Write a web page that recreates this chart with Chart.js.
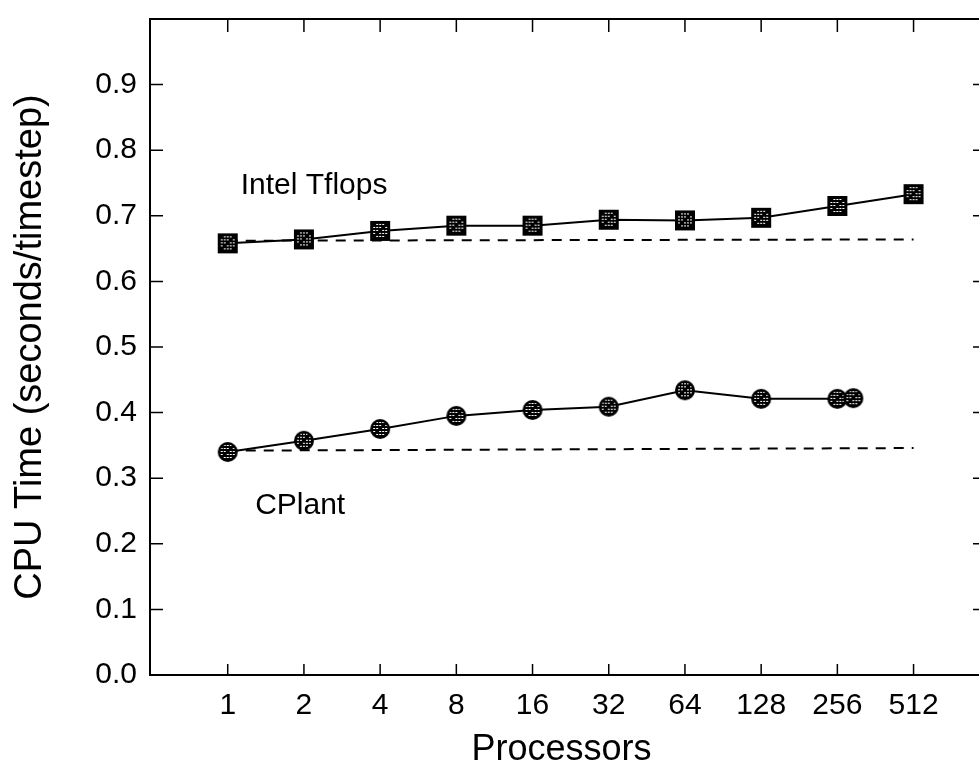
<!DOCTYPE html>
<html>
<head>
<meta charset="utf-8">
<script src="https://cdn.jsdelivr.net/npm/chart.js@4/dist/chart.umd.min.js"></script>
<style>
  html, body { margin: 0; padding: 0; background: #fff; }
  #wrap { width: 979px; height: 772px; }
</style>
</head>
<body>
<div id="wrap"><canvas id="cpuChart" width="979" height="772"></canvas></div>
<script>
// processors on a log2 axis, placed at positions 1..10
const procLabels = ['1', '2', '4', '8', '16', '32', '64', '128', '256', '512'];
const procPos = [1, 2, 3, 4, 5, 6, 7, 8, 9, 10];

// Intel Tflops, seconds per timestep
const intelTime = [0.658, 0.664, 0.677, 0.685, 0.685, 0.694, 0.693, 0.697, 0.715, 0.733];

// CPlant has one extra run just right of 256
const cplantPos = [1, 2, 3, 4, 5, 6, 7, 8, 9, 9.21];
const cplantTime = [0.340, 0.357, 0.375, 0.395, 0.404, 0.409, 0.434, 0.421, 0.421, 0.422];

// dashed ideal-scaling lines
const idealPos = [1, 10];
const intelIdeal = [0.662, 0.664];
const cplantIdeal = [0.342, 0.346];

const yTicks = [0, 0.1, 0.2, 0.3, 0.4, 0.5, 0.6, 0.7, 0.8, 0.9];

const FONT = "'Liberation Sans', Arial, Helvetica, sans-serif";

function toPoints(xs, ys) {
    return xs.map((x, i) => ({ x: x, y: ys[i] }));
}

// little hatched markers like the scanned figure
function hatchMarker(shape) {
    const s = 22;
    const c = document.createElement('canvas');
    c.width = s;
    c.height = s;
    const g = c.getContext('2d');
    g.fillStyle = '#000';
    if (shape === 'circle') {
        g.beginPath();
        g.arc(s / 2, s / 2, s / 2 - 1, 0, Math.PI * 2);
        g.fill();
        g.beginPath();
        g.arc(s / 2, s / 2, s / 2 - 3.5, 0, Math.PI * 2);
        g.clip();
    } else {
        g.fillRect(1, 1, s - 2, s - 2);
        g.beginPath();
        g.rect(3, 3, s - 6, s - 6);
        g.clip();
    }
    g.fillStyle = '#fff';
    for (let y = 4; y < s - 3; y += 3) {
        for (let x = 4; x < s - 3; x += 3) {
            if ((x + y) % 4 !== 0) g.fillRect(x, y, 2, 1);
        }
    }
    return c;
}

const squareMark = hatchMarker('square');
const circleMark = hatchMarker('circle');

// no extra room for half tick labels, the frame sits on fixed edges
function noPadding(scale) {
    scale.paddingTop = 0;
    scale.paddingBottom = 0;
    scale.paddingLeft = 0;
    scale.paddingRight = 0;
}

// frame, inside tick marks and the two series labels
const framePlugin = {
    id: 'frame',
    beforeDatasetsDraw(chart) {
        const { ctx, chartArea: a, scales } = chart;
        const right = chart.width; // right edge of the frame is cut off by the page
        ctx.save();
        ctx.strokeStyle = '#000';
        ctx.lineWidth = 2;
        ctx.beginPath();
        ctx.moveTo(right, a.top);
        ctx.lineTo(a.left, a.top);
        ctx.lineTo(a.left, a.bottom);
        ctx.lineTo(right, a.bottom);
        ctx.stroke();

        ctx.lineWidth = 1.5;
        ctx.beginPath();
        procPos.forEach(p => {
            const x = scales.x.getPixelForValue(p);
            ctx.moveTo(x, a.bottom);
            ctx.lineTo(x, a.bottom - 11);
            ctx.moveTo(x, a.top);
            ctx.lineTo(x, a.top + 13);
        });
        yTicks.forEach(v => {
            if (v === 0) return;
            const y = scales.y.getPixelForValue(v);
            ctx.moveTo(a.left, y);
            ctx.lineTo(a.left + 13, y);
            ctx.moveTo(right, y);
            ctx.lineTo(right - 6, y);
        });
        ctx.stroke();

        ctx.fillStyle = '#000';
        ctx.font = '30px ' + FONT;
        ctx.textAlign = 'left';
        ctx.textBaseline = 'alphabetic';
        ctx.fillText('Intel Tflops', scales.x.getPixelForValue(1.17), scales.y.getPixelForValue(0.733));
        ctx.fillText('CPlant', scales.x.getPixelForValue(1.36), scales.y.getPixelForValue(0.246));
        ctx.restore();
    }
};

const ctx = document.getElementById('cpuChart').getContext('2d');

new Chart(ctx, {
    type: 'line',
    data: {
        datasets: [
            {
                label: 'Intel Tflops',
                data: toPoints(procPos, intelTime),
                borderColor: '#000',
                borderWidth: 2,
                pointStyle: squareMark,
                order: 1
            },
            {
                label: 'CPlant',
                data: toPoints(cplantPos, cplantTime),
                borderColor: '#000',
                borderWidth: 2,
                pointStyle: circleMark,
                order: 1
            },
            {
                label: 'Intel ideal',
                data: toPoints(idealPos, intelIdeal),
                borderColor: '#000',
                borderWidth: 2,
                borderDash: [10, 8],
                pointRadius: 0,
                order: 2
            },
            {
                label: 'CPlant ideal',
                data: toPoints(idealPos, cplantIdeal),
                borderColor: '#000',
                borderWidth: 2,
                borderDash: [10, 8],
                pointRadius: 0,
                order: 2
            }
        ]
    },
    options: {
        responsive: false,
        animation: false,
        devicePixelRatio: 1,
        layout: { padding: { top: 19, left: 0, right: 0, bottom: 0 } },
        plugins: {
            legend: { display: false },
            tooltip: { enabled: false }
        },
        scales: {
            x: {
                type: 'linear',
                min: -0.02,
                max: 10.78,
                afterBuildTicks: scale => {
                    scale.ticks = procPos.map(v => ({ value: v }));
                },
                afterFit: scale => {
                    scale.height = 97;
                    noPadding(scale);
                },
                grid: { display: false, drawTicks: false },
                border: { display: false },
                ticks: {
                    color: '#000',
                    font: { family: FONT, size: 30 },
                    padding: 13,
                    maxRotation: 0,
                    autoSkip: false,
                    callback: v => procLabels[procPos.indexOf(v)]
                },
                title: {
                    display: true,
                    text: 'Processors',
                    color: '#000',
                    font: { family: FONT, size: 36 },
                    padding: { top: 0, bottom: 0 }
                }
            },
            y: {
                min: 0,
                max: 1,
                afterBuildTicks: scale => {
                    scale.ticks = yTicks.map(v => ({ value: v }));
                },
                afterFit: scale => {
                    scale.width = 150;
                    noPadding(scale);
                },
                grid: { display: false, drawTicks: false },
                border: { display: false },
                ticks: {
                    color: '#000',
                    font: { family: FONT, size: 30 },
                    padding: 13,
                    callback: v => v.toFixed(1)
                },
                title: {
                    display: true,
                    text: 'CPU Time (seconds/timestep)',
                    color: '#000',
                    font: { family: FONT, size: 38 },
                    padding: { top: 8, bottom: 0 }
                }
            }
        }
    },
    plugins: [framePlugin]
});
</script>
</body>
</html>
